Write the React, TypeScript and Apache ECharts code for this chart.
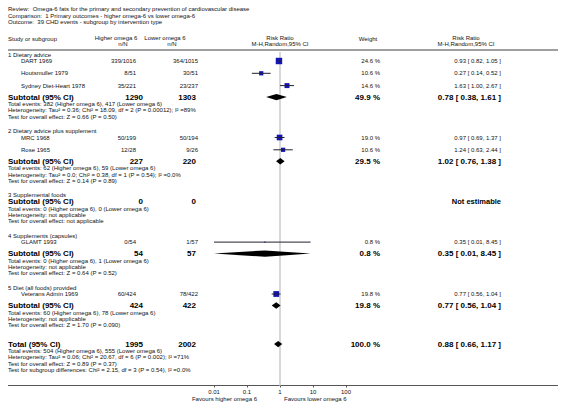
import React, { useEffect, useRef } from "react";
import * as echarts from "echarts";

// ---------- DATA ----------
const TITLE_LINES = [
  "Review:\u00a0\u00a0Omega-6 fats for the primary and secondary prevention of cardiovascular disease",
  "Comparison:\u00a0\u00a01 Primary outcomes - higher omega-6 vs lower omega-6",
  "Outcome:\u00a0\u00a039 CHD events - subgroup by intervention type",
];
const HEADER_STUDY = "Study or subgroup";
const HEADER_HIGHER = ["Higher omega 6", "n/N"];
const HEADER_LOWER = ["Lower omega 6", "n/N"];
const HEADER_RR = ["Risk Ratio", "M-H,Random,95% CI"];
const HEADER_WEIGHT = "Weight";

const GROUP_LABELS = [
  "1 Dietary advice",
  "2 Dietary advice plus supplement",
  "3 Supplemental foods",
  "4 Supplements (capsules)",
  "5 Diet (all foods) provided",
];

const STUDY_NAMES = [
  "DART 1969",
  "Houtsmuller 1979",
  "Sydney Diet-Heart 1978",
  "MRC 1968",
  "Rose 1965",
  "GLAMT 1993",
  "Veterans Admin 1969",
];
const STUDY_GROUP = [0, 0, 0, 1, 1, 3, 4];
const STUDY_HIGHER = ["339/1016", "8/51", "35/221", "50/199", "12/28", "0/54", "60/424"];
const STUDY_LOWER = ["364/1015", "30/51", "23/237", "50/194", "9/26", "1/57", "78/422"];
const STUDY_RR = [0.93, 0.27, 1.63, 0.97, 1.24, 0.35, 0.77];
const STUDY_LO = [0.82, 0.14, 1.0, 0.69, 0.63, 0.01, 0.56];
const STUDY_HI = [1.05, 0.52, 2.67, 1.37, 2.44, 8.45, 1.04];
const STUDY_WEIGHT = [24.6, 10.6, 14.6, 19.0, 10.6, 0.8, 19.8];

const SUB_HIGHER_N = [1290, 227, 0, 54, 424];
const SUB_LOWER_N = [1303, 220, 0, 57, 422];
const SUB_RR: (number | null)[] = [0.78, 1.02, null, 0.35, 0.77];
const SUB_LO: (number | null)[] = [0.38, 0.76, null, 0.01, 0.56];
const SUB_HI: (number | null)[] = [1.61, 1.38, null, 8.45, 1.04];
const SUB_WEIGHT: (number | null)[] = [49.9, 29.5, null, 0.8, 19.8];
const SUB_EVENTS_HIGHER = [382, 62, 0, 0, 60];
const SUB_EVENTS_LOWER = [417, 59, 0, 1, 78];
const SUB_HETEROGENEITY = [
  "Tau\u00b2 = 0.36; Chi\u00b2 = 18.09, df = 2 (P = 0.00012); I\u00b2 =89%",
  "Tau\u00b2 = 0.0; Chi\u00b2 = 0.38, df = 1 (P = 0.54); I\u00b2 =0.0%",
  "not applicable",
  "not applicable",
  "not applicable",
];
const SUB_OVERALL = [
  "Z = 0.66 (P = 0.50)",
  "Z = 0.14 (P = 0.89)",
  "not applicable",
  "Z = 0.64 (P = 0.52)",
  "Z = 1.70 (P = 0.090)",
];

const TOTAL_HIGHER_N = 1995;
const TOTAL_LOWER_N = 2002;
const TOTAL_RR = 0.88;
const TOTAL_LO = 0.66;
const TOTAL_HI = 1.17;
const TOTAL_WEIGHT = 100.0;
const TOTAL_EVENTS_HIGHER = 504;
const TOTAL_EVENTS_LOWER = 555;
const TOTAL_HETEROGENEITY = "Tau\u00b2 = 0.06; Chi\u00b2 = 20.67, df = 6 (P = 0.002); I\u00b2 =71%";
const TOTAL_OVERALL = "Z = 0.89 (P = 0.37)";
const TOTAL_SUBGROUP = "Chi\u00b2 = 2.15, df = 3 (P = 0.54), I\u00b2 =0.0%";

const TICK_LABELS = ["0.01", "0.1", "1", "10", "100"];
const FAVOURS_LEFT = "Favours higher omega 6";
const FAVOURS_RIGHT = "Favours lower omega 6";

// ---------- STYLE / LAYOUT ----------
const FONT = '"Liberation Sans", Arial, Helvetica, sans-serif';
const FS = 6;
const FS_BOLD = 8;
const TEXT = "#111";
const SQUARE_COLOR = "#1414b4";
const CI_COLOR = "#202030";
const SQUARE_SCALE = 1.3;
const DIAMOND_HALF = 3.2;

const XL = {
  left: 8,
  indent: 21,
  higherR: 136,
  higherBoldR: 143,
  lowerR: 198,
  lowerBoldR: 196,
  weightR: 380,
  rrR: 501,
  plotL: 214,
  plotR: 346,
  right: 558,
};

const fmtRR = (r: number, l: number, h: number) =>
  `${r.toFixed(2)} [ ${l.toFixed(2)}, ${h.toFixed(2)} ]`;
const fmtW = (w: number) => `${w.toFixed(1)} %`;

function buildLayout() {
  const groupY: number[] = [];
  const studyY: number[] = new Array(STUDY_NAMES.length).fill(0);
  const subY: number[] = [];
  const teY: number[] = [];
  const hetY: number[] = [];
  const testY: number[] = [];
  let y = 54.5;
  GROUP_LABELS.forEach((_, g) => {
    groupY.push(y);
    y += 6.5;
    const idx = STUDY_GROUP.map((gg, i) => (gg === g ? i : -1)).filter((i) => i >= 0);
    idx.forEach((i, k) => {
      studyY[i] = y;
      y += k === idx.length - 1 ? 11.5 : 12.3;
    });
    subY.push(y);
    y += 7;
    teY.push(y);
    y += 6.3;
    hetY.push(y);
    y += 6.3;
    testY.push(y);
    y += 14.3;
  });
  const totalY = testY[testY.length - 1] + 19;
  return {
    groupY,
    studyY,
    subY,
    teY,
    hetY,
    testY,
    totalY,
    totalTeY: totalY + 7,
    totalHetY: totalY + 13.3,
    totalTestY: totalY + 19.6,
    totalSubY: totalY + 25.9,
    plotTop: 52,
    axisY: 385.5,
    headerLineY: 50,
  };
}

export default function App() {
  const ref = useRef<HTMLDivElement>(null);

  useEffect(() => {
    if (!ref.current) return;
    const chart = echarts.init(ref.current, undefined, { renderer: "svg" });
    const L = buildLayout();

    const txt = (text: string, x: number, y: number, o: any = {}) => ({
      type: "text",
      x,
      y,
      silent: true,
      style: {
        text,
        fill: TEXT,
        fontSize: FS,
        fontFamily: FONT,
        textAlign: "left",
        textVerticalAlign: "middle",
        ...o,
      },
    });
    const bold = { fontSize: FS_BOLD, fontWeight: "bold", fill: "#000" };

    const graphics: any[] = [];
    TITLE_LINES.forEach((t, i) => graphics.push(txt(t, XL.left, 9 + i * 6.6)));
    graphics.push(txt(HEADER_STUDY, XL.left, 38.5));
    graphics.push(txt(HEADER_HIGHER[0], 116, 37.5, { textAlign: "center" }));
    graphics.push(txt(HEADER_HIGHER[1], 123, 44, { textAlign: "center" }));
    graphics.push(txt(HEADER_LOWER[0], 165, 37.5, { textAlign: "center" }));
    graphics.push(txt(HEADER_LOWER[1], 172, 44, { textAlign: "center" }));
    graphics.push(txt(HEADER_RR[0], 280, 37.5, { textAlign: "center" }));
    graphics.push(txt(HEADER_RR[1], 280, 44, { textAlign: "center" }));
    graphics.push(txt(HEADER_WEIGHT, 368, 39, { textAlign: "center" }));
    graphics.push(txt(HEADER_RR[0], 466, 37.5, { textAlign: "center" }));
    graphics.push(txt(HEADER_RR[1], 466, 44, { textAlign: "center" }));
    graphics.push({
      type: "line",
      silent: true,
      shape: { x1: XL.left, y1: L.headerLineY, x2: XL.right, y2: L.headerLineY },
      style: { stroke: "#a0a0a0", lineWidth: 2 },
    });

    GROUP_LABELS.forEach((g, gi) => {
      graphics.push(txt(g, XL.left, L.groupY[gi]));
      graphics.push(txt("Subtotal (95% CI)", XL.left, L.subY[gi], bold));
      graphics.push(txt(String(SUB_HIGHER_N[gi]), XL.higherBoldR, L.subY[gi], { ...bold, textAlign: "right" }));
      graphics.push(txt(String(SUB_LOWER_N[gi]), XL.lowerBoldR, L.subY[gi], { ...bold, textAlign: "right" }));
      const r = SUB_RR[gi];
      if (r != null) {
        graphics.push(txt(fmtW(SUB_WEIGHT[gi] as number), XL.weightR, L.subY[gi], { ...bold, textAlign: "right" }));
        graphics.push(
          txt(fmtRR(r, SUB_LO[gi] as number, SUB_HI[gi] as number), XL.rrR, L.subY[gi], { ...bold, textAlign: "right" })
        );
      } else {
        graphics.push(txt("Not estimable", XL.rrR, L.subY[gi], { ...bold, fontSize: 7.5, textAlign: "right" }));
      }
      graphics.push(
        txt(
          `Total events: ${SUB_EVENTS_HIGHER[gi]} (Higher omega 6), ${SUB_EVENTS_LOWER[gi]} (Lower omega 6)`,
          XL.left,
          L.teY[gi]
        )
      );
      graphics.push(txt(`Heterogeneity: ${SUB_HETEROGENEITY[gi]}`, XL.left, L.hetY[gi]));
      graphics.push(txt(`Test for overall effect: ${SUB_OVERALL[gi]}`, XL.left, L.testY[gi]));
    });

    STUDY_NAMES.forEach((n, i) => {
      const y = L.studyY[i];
      graphics.push(txt(n, XL.indent, y));
      graphics.push(txt(STUDY_HIGHER[i], XL.higherR, y, { textAlign: "right" }));
      graphics.push(txt(STUDY_LOWER[i], XL.lowerR, y, { textAlign: "right" }));
      graphics.push(txt(fmtW(STUDY_WEIGHT[i]), XL.weightR, y, { textAlign: "right" }));
      graphics.push(txt(fmtRR(STUDY_RR[i], STUDY_LO[i], STUDY_HI[i]), XL.rrR, y, { textAlign: "right" }));
    });

    graphics.push(txt("Total (95% CI)", XL.left, L.totalY, bold));
    graphics.push(txt(String(TOTAL_HIGHER_N), XL.higherBoldR, L.totalY, { ...bold, textAlign: "right" }));
    graphics.push(txt(String(TOTAL_LOWER_N), XL.lowerBoldR, L.totalY, { ...bold, textAlign: "right" }));
    graphics.push(txt(fmtW(TOTAL_WEIGHT), XL.weightR, L.totalY, { ...bold, textAlign: "right" }));
    graphics.push(txt(fmtRR(TOTAL_RR, TOTAL_LO, TOTAL_HI), XL.rrR, L.totalY, { ...bold, textAlign: "right" }));
    graphics.push(
      txt(
        `Total events: ${TOTAL_EVENTS_HIGHER} (Higher omega 6), ${TOTAL_EVENTS_LOWER} (Lower omega 6)`,
        XL.left,
        L.totalTeY
      )
    );
    graphics.push(txt(`Heterogeneity: ${TOTAL_HETEROGENEITY}`, XL.left, L.totalHetY));
    graphics.push(txt(`Test for overall effect: ${TOTAL_OVERALL}`, XL.left, L.totalTestY));
    graphics.push(txt(`Test for subgroup differences: ${TOTAL_SUBGROUP}`, XL.left, L.totalSubY));

    graphics.push({
      type: "line",
      silent: true,
      shape: { x1: XL.left, y1: L.axisY, x2: XL.right, y2: L.axisY },
      style: { stroke: "#555", lineWidth: 1 },
    });
    graphics.push(txt(FAVOURS_LEFT, 257, 398.5, { textAlign: "right" }));
    graphics.push(txt(FAVOURS_RIGHT, 284, 398.5));

    const studyData = STUDY_NAMES.map((_, i) => [STUDY_RR[i], STUDY_LO[i], STUDY_HI[i], L.studyY[i], STUDY_WEIGHT[i]]);
    const diamondData: number[][] = [];
    SUB_RR.forEach((r, gi) => {
      if (r != null) diamondData.push([r, SUB_LO[gi] as number, SUB_HI[gi] as number, L.subY[gi]]);
    });
    diamondData.push([TOTAL_RR, TOTAL_LO, TOTAL_HI, L.totalY]);

    chart.setOption({
      animation: false,
      grid: {
        left: XL.plotL,
        width: XL.plotR - XL.plotL,
        top: L.plotTop,
        height: L.axisY - L.plotTop,
        containLabel: false,
      },
      xAxis: {
        type: "log",
        logBase: 10,
        min: 0.01,
        max: 100,
        axisLine: { show: true, lineStyle: { color: "#555", width: 1 } },
        axisTick: { show: true, length: 2, lineStyle: { color: "#555" } },
        axisLabel: {
          fontSize: FS,
          fontFamily: FONT,
          color: TEXT,
          margin: 3,
          formatter: (v: number) =>
            TICK_LABELS.find((t) => Math.abs(Math.log10(parseFloat(t)) - Math.log10(v)) < 1e-6) ?? "",
        },
        splitLine: { show: false },
        minorTick: { show: false },
      },
      yAxis: {
        type: "value",
        min: L.plotTop,
        max: L.axisY,
        inverse: true,
        show: false,
        splitLine: { show: false },
      },
      graphic: graphics,
      series: [
        {
          type: "custom",
          name: "studies",
          silent: true,
          data: studyData,
          encode: { x: [0, 1, 2], y: 3 },
          markLine: {
            silent: true,
            symbol: "none",
            label: { show: false },
            lineStyle: { color: "#d8d8d8", width: 2, type: "solid" },
            data: [{ xAxis: 1 }],
            z: 1,
          },
          z: 5,
          renderItem: (_p: any, api: any) => {
            const y = api.value(3);
            const c = api.coord([api.value(0), y]);
            const l = api.coord([api.value(1), y]);
            const h = api.coord([api.value(2), y]);
            const s = SQUARE_SCALE * Math.sqrt(api.value(4));
            return {
              type: "group",
              children: [
                {
                  type: "rect",
                  shape: { x: c[0] - s / 2, y: c[1] - s / 2, width: s, height: s },
                  style: { fill: SQUARE_COLOR },
                },
                {
                  type: "line",
                  shape: { x1: l[0], y1: c[1], x2: h[0], y2: c[1] },
                  style: { stroke: CI_COLOR, lineWidth: 1 },
                },
              ],
            };
          },
        },
        {
          type: "custom",
          name: "pooled",
          silent: true,
          data: diamondData,
          encode: { x: [0, 1, 2], y: 3 },
          z: 5,
          renderItem: (_p: any, api: any) => {
            const y = api.value(3);
            const c = api.coord([api.value(0), y]);
            const l = api.coord([api.value(1), y]);
            const h = api.coord([api.value(2), y]);
            return {
              type: "polygon",
              shape: {
                points: [
                  [l[0], c[1]],
                  [c[0], c[1] - DIAMOND_HALF],
                  [h[0], c[1]],
                  [c[0], c[1] + DIAMOND_HALF],
                ],
              },
              style: { fill: "#000" },
            };
          },
        },
      ],
    });
    return () => chart.dispose();
  }, []);

  return (
    <div
      ref={ref}
      style={{ position: "fixed", left: 0, top: 0, width: 566, height: 404, background: "#fff" }}
    />
  );
}
